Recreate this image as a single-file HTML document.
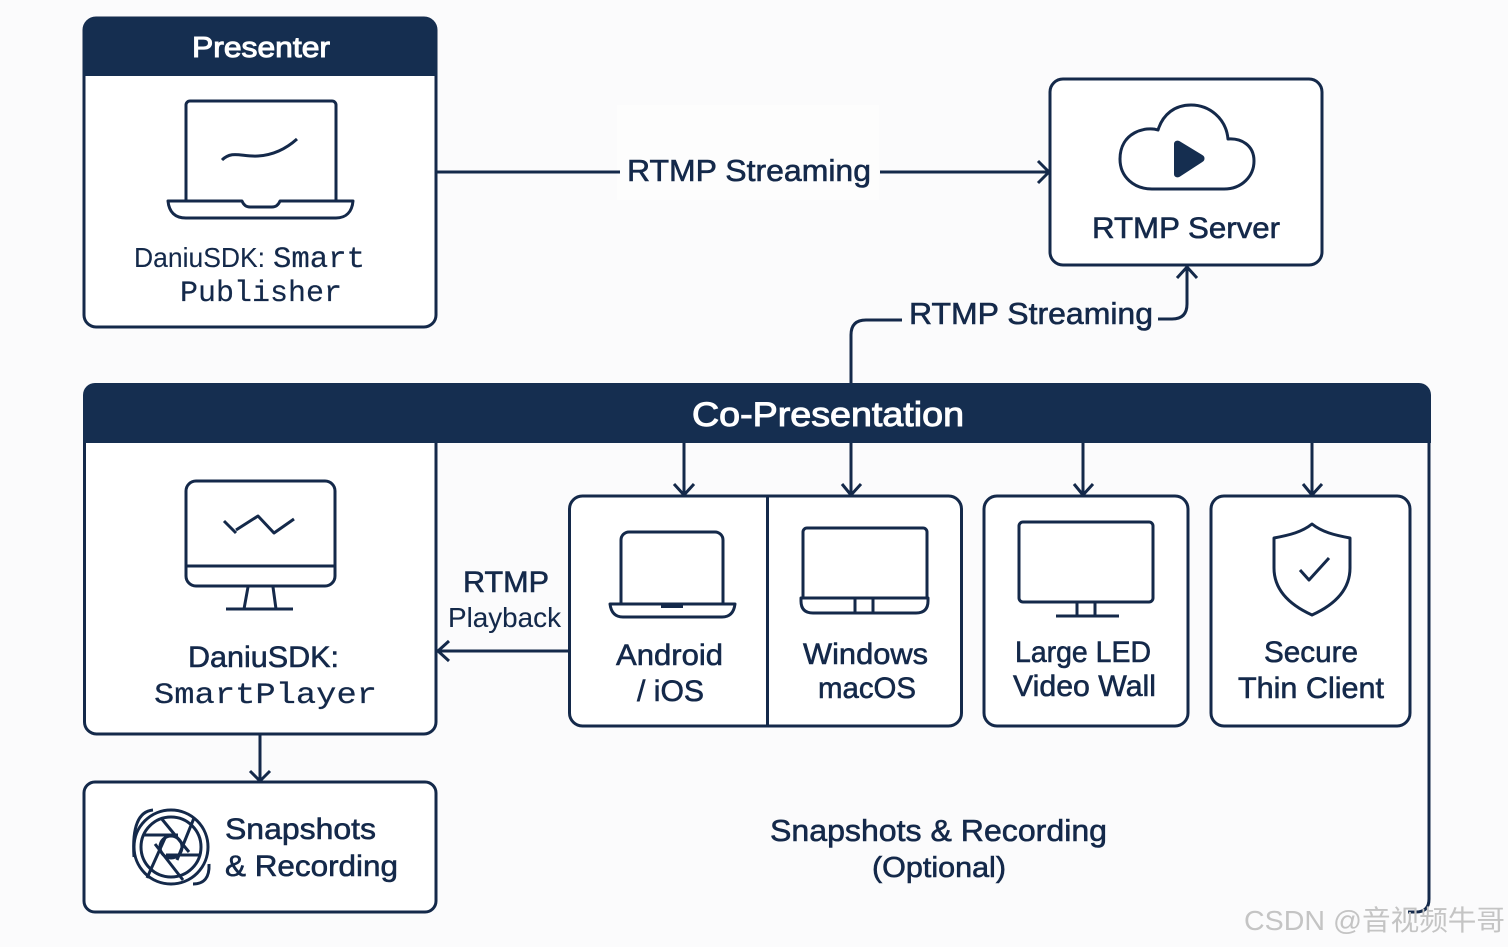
<!DOCTYPE html>
<html><head><meta charset="utf-8"><style>
html,body{margin:0;padding:0;background:#fbfbfc;width:1508px;height:947px;overflow:hidden}
svg{display:block}
text{font-family:"Liberation Sans",sans-serif;fill:#14294a;stroke:#14294a;stroke-width:.6px}
.m{font-family:"Liberation Mono",monospace;stroke-width:.2px}
.w{fill:#fff;stroke:#fff;stroke-width:1px}
.l{fill:none;stroke:#14294a;stroke-width:3;stroke-linecap:butt;stroke-linejoin:round}
.b{fill:#fff;stroke:#14294a;stroke-width:3}
.t{stroke-width:.1px}
</style></head><body>
<svg width="1508" height="947" viewBox="0 0 1508 947" xmlns="http://www.w3.org/2000/svg">
<rect width="1508" height="947" fill="#fbfbfc"/>
<rect x="617" y="105" width="262" height="95" fill="#fdfdfd"/>

<!-- Presenter -->
<rect class="b" x="84" y="18" width="352" height="309" rx="12"/>
<path d="M83 76V29a12 12 0 0 1 12-12H425a12 12 0 0 1 12 12V76Z" fill="#152e50"/>
<text class="w" x="192" y="57" font-size="29" textLength="138" lengthAdjust="spacingAndGlyphs">Presenter</text>
<path class="l" d="M186 201V105a4 4 0 0 1 4-4H332a4 4 0 0 1 4 4V201"/>
<path class="l" d="M222 160C232 150 242 157 258 156C275 155 287 148 297 139"/>
<path class="l" d="M168 201H242C244 206 247 207 250 207H272C275 207 278 206 280 201H353C352 212 346 218 336 218H186C175 218 169 212 168 201Z"/>
<text x="134" y="267" font-size="28" textLength="131" lengthAdjust="spacingAndGlyphs" class="t">DaniuSDK:</text>
<text class="m" x="273" y="267" font-size="30" textLength="92" lengthAdjust="spacingAndGlyphs">Smart</text>
<text class="m" x="180" y="301" font-size="30" textLength="162" lengthAdjust="spacingAndGlyphs">Publisher</text>

<!-- RTMP server -->
<rect class="b" x="1050" y="79" width="272" height="186" rx="13"/>
<path class="l" d="M1158 130C1146 126 1120 132 1120 159C1120 177 1134 189 1152 189H1224C1242 189 1254 176 1254 161C1254 145 1241 138 1228 139C1226 118 1209 105 1191 105C1175 105 1163 114 1158 130Z"/>
<path d="M1175 144C1175 142 1177 141 1179 142L1202 156C1204 157 1204 160 1202 161L1179 176C1177 177 1175 176 1175 174Z" fill="#152e50" stroke="#152e50" stroke-width="2"/>
<text x="1092" y="238" font-size="30" textLength="188" lengthAdjust="spacingAndGlyphs">RTMP Server</text>

<!-- Top connectors -->
<path class="l" d="M437 172H620"/>
<path class="l" d="M880 172H1049M1038 161L1049 172L1038 183"/>
<text x="627" y="181" font-size="31" textLength="244" lengthAdjust="spacingAndGlyphs">RTMP Streaming</text>
<path class="l" d="M851 384V335Q851 320 866 320H902"/>
<path class="l" d="M1158 319H1172Q1187 319 1187 304V267M1177 278L1187 267L1197 278"/>
<text x="909" y="324" font-size="31" textLength="244" lengthAdjust="spacingAndGlyphs">RTMP Streaming</text>

<!-- Co-Presentation -->
<path d="M83 443V395a12 12 0 0 1 12-12H1419a12 12 0 0 1 12 12V443Z" fill="#152e50"/>
<text class="w" x="692" y="426" font-size="34" textLength="272" lengthAdjust="spacingAndGlyphs">Co-Presentation</text>
<path class="l" d="M1429 443V899Q1429 912 1416 912H1408"/>

<!-- SmartPlayer -->
<path class="b" d="M84.500 443V722a12 12 0 0 0 12 12H424a12 12 0 0 0 12-12V443"/>
<rect class="l" x="186" y="481" width="149" height="105" rx="10"/>
<path class="l" d="M186 566H335M248 587L244 609M273 587L276 609M226 609H293"/>
<path class="l" d="M224 521L236 533M236 530L258 516L274 533L294 519"/>
<text x="188" y="667" font-size="30" textLength="151" lengthAdjust="spacingAndGlyphs">DaniuSDK:</text>
<text class="m" x="154" y="703" font-size="30" textLength="223" lengthAdjust="spacingAndGlyphs">SmartPlayer</text>

<!-- Snapshots -->
<path class="l" d="M260 735V780M250 771L260 781L270 771"/>
<rect class="b" x="84" y="782" width="352" height="130" rx="11"/>
<circle class="l" cx="171" cy="847" r="37" stroke-width="4"/>
<circle class="l" cx="171" cy="847" r="30" stroke-width="3"/>
<circle class="l" cx="171" cy="847" r="11"/>
<path class="l" d="M144 835H178M161 818L189 852M194 818L177 860M201 855H166M183 880L155 844M147 878L165 838"/>
<path class="l" d="M134 857Q131 812 153 810" stroke-width="3.500"/>
<path class="l" d="M193 884Q210 884 209 864" stroke-width="3.500"/>
<text x="225" y="839" font-size="30" textLength="151" lengthAdjust="spacingAndGlyphs">Snapshots</text>
<text x="225" y="876" font-size="30" textLength="173" lengthAdjust="spacingAndGlyphs">&amp; Recording</text>

<!-- Playback -->
<path class="l" d="M569 651H438M449 641L438 651L449 661"/>
<text x="463" y="592" font-size="30" textLength="86" lengthAdjust="spacingAndGlyphs">RTMP</text>
<text class="t" x="448" y="627" font-size="28" textLength="113" lengthAdjust="spacingAndGlyphs">Playback</text>

<!-- Down arrows -->
<path class="l" d="M684 443V494M674 484L684 495L694 484"/>
<path class="l" d="M851 443V494M842 484L851 495L861 484"/>
<path class="l" d="M1083 443V494M1074 484L1083 495L1093 484"/>
<path class="l" d="M1312 443V494M1303 484L1312 495L1322 484"/>

<!-- Device group -->
<rect class="b" x="569.500" y="496" width="392" height="230" rx="13"/>
<path class="l" d="M767.500 496V726"/>
<path class="l" d="M621 604V540a8 8 0 0 1 8-8H715a8 8 0 0 1 8 8V604"/>
<path class="l" d="M610 604H735C734 612 730 617 722 617H623C615 617 611 612 610 604Z"/>
<rect x="661" y="604" width="22" height="4" fill="#14294a"/>
<text x="616" y="665" font-size="30" textLength="107" lengthAdjust="spacingAndGlyphs">Android</text>
<text x="637" y="701" font-size="30" textLength="67" lengthAdjust="spacingAndGlyphs">/ iOS</text>

<path class="l" d="M803 598V532a4 4 0 0 1 4-4H923a4 4 0 0 1 4 4V598"/>
<path class="l" d="M801 598H928V601Q928 613 916 613H813Q801 613 801 601ZM855 598V613M873 598V613"/>
<text x="803" y="664" font-size="30" textLength="125" lengthAdjust="spacingAndGlyphs">Windows</text>
<text x="818" y="698" font-size="30" textLength="98" lengthAdjust="spacingAndGlyphs">macOS</text>

<!-- LED -->
<rect class="b" x="984" y="496" width="204" height="230" rx="13"/>
<rect class="l" x="1019" y="522" width="134" height="80" rx="4"/>
<path class="l" d="M1077 602V616M1095 602V616M1056 616H1119"/>
<text x="1015" y="662" font-size="30" textLength="136" lengthAdjust="spacingAndGlyphs">Large LED</text>
<text x="1013" y="696" font-size="30" textLength="143" lengthAdjust="spacingAndGlyphs">Video Wall</text>

<!-- Thin client -->
<rect class="b" x="1211" y="496" width="199" height="230" rx="13"/>
<path class="l" d="M1312 524C1302 532 1290 535 1274 538V568C1274 590 1290 605 1312 615C1334 605 1350 590 1350 568V538C1334 535 1322 532 1312 524Z"/>
<path class="l" d="M1300 570L1309 580L1329 558"/>
<text x="1264" y="662" font-size="30" textLength="94" lengthAdjust="spacingAndGlyphs">Secure</text>
<text x="1238" y="698" font-size="30" textLength="146" lengthAdjust="spacingAndGlyphs">Thin Client</text>

<!-- Optional -->
<text x="770" y="841" font-size="31" textLength="337" lengthAdjust="spacingAndGlyphs">Snapshots &amp; Recording</text>
<text x="872" y="877" font-size="29" textLength="134" lengthAdjust="spacingAndGlyphs">(Optional)</text>

<!-- Watermark -->
<text x="1244" y="930" font-size="28" textLength="261" lengthAdjust="spacingAndGlyphs" style="font-family:'Liberation Sans','Noto Sans CJK SC',sans-serif;fill:#c4c4c4;stroke:none">CSDN @音视频牛哥</text>
</svg>
</body></html>
